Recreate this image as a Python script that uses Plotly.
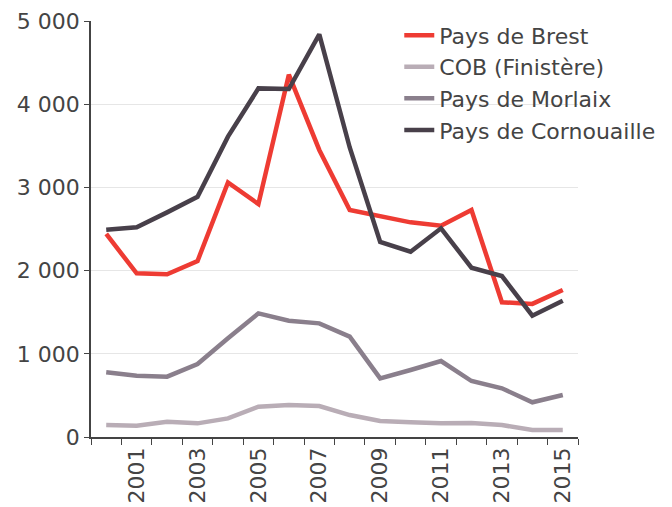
import plotly.graph_objects as go

years = [str(y) for y in range(2000, 2016)]
tick_text = [y if int(y) % 2 == 1 else "" for y in years]

brest = [2440, 1967, 1955, 2115, 3060, 2800, 4355, 3450, 2728, 2650, 2580, 2540, 2728, 1619, 1600, 1767]
cob = [144, 136, 184, 164, 224, 364, 385, 373, 264, 192, 176, 164, 168, 144, 84, 84]
morlaix = [777, 737, 725, 877, 1186, 1486, 1398, 1366, 1206, 705, 805, 913, 673, 585, 417, 505]
cornouaille = [2490, 2520, 2700, 2888, 3610, 4190, 4183, 4840, 3480, 2345, 2227, 2508, 2035, 1935, 1458, 1638]

series = [
    ("Pays de Brest", brest, "#EE3B33"),
    ("COB (Finistère)", cob, "#B9ADB6"),
    ("Pays de Morlaix", morlaix, "#8A7F8C"),
    ("Pays de Cornouaille", cornouaille, "#48404A"),
]

fig = go.Figure()
for name, vals, color in series:
    fig.add_trace(go.Scatter(x=years, y=vals, name=name, mode="lines",
                             line=dict(color=color, width=4.5)))

fig.update_layout(
    width=672, height=507,
    margin=dict(l=91, r=91, t=21, b=70),
    paper_bgcolor="white", plot_bgcolor="white",
    font=dict(family="DejaVu Sans, sans-serif", size=22, color="#444444"),
    separators=", ",
    showlegend=True,
    legend=dict(x=0.633, y=1.016, xanchor="left", yanchor="top",
                bgcolor="rgba(0,0,0,0)", font=dict(size=22, color="#444444")),
    xaxis=dict(type="category", tickvals=years, ticktext=tick_text,
               tickson="boundaries", ticks="outside", ticklen=6, tickcolor="#444444",
               showline=True, linecolor="#444444", linewidth=1.5, automargin=False,
               showgrid=False, tickangle=-90, range=[-0.5, 15.5]),
    yaxis=dict(range=[0, 5000], dtick=1000, tickformat=",d",
               ticks="outside", ticklen=5, tickcolor="#444444", automargin=False,
               showline=True, linecolor="#444444", linewidth=1.5,
               showgrid=True, gridcolor="#E6E6E6", gridwidth=1, zeroline=False),
)

fig.write_html("out.html", config={"displayModeBar": False},
               post_script="document.body.style.margin='0';")
